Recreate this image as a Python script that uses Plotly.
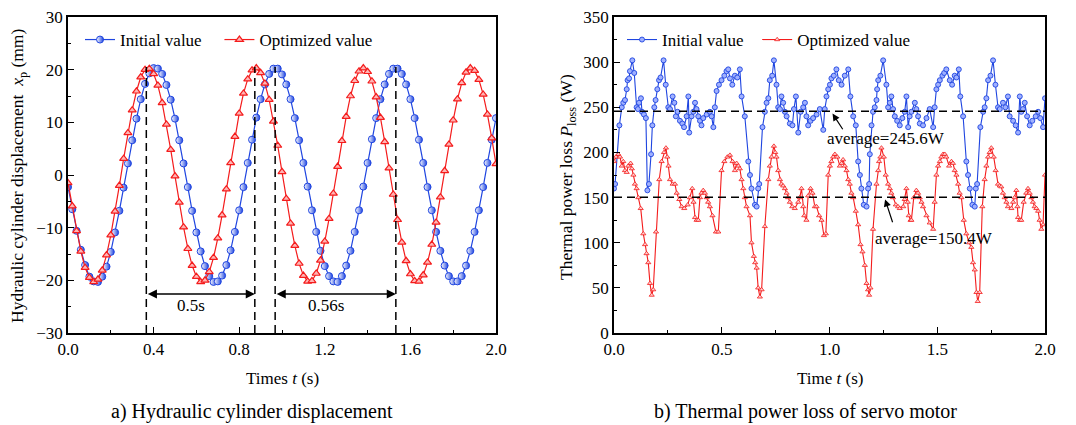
import plotly.graph_objects as go

# ---------------- data: a) hydraulic cylinder displacement ----------------
t_a = [round(i * 0.02, 2) for i in range(101)]
x_init = [-2.3, -6.5, -10.6, -14.2, -17.1, -19.3, -20.2, -20.3, -19.3, -17.4,
          -14.6, -10.9, -6.8, -2.4, 2.2, 6.6, 10.7, 14.4, 17.3, 19.3,
          20.3, 20.2, 19.2, 17.1, 14.3, 10.7, 6.6, 2.2,
          -2.3, -6.8, -10.9, -14.5, -17.3, -19.2, -20.3, -20.2, -19.1, -17.1,
          -14.3, -10.8, -6.7, -2.3, 2.3, 6.7, 10.9, 14.4, 17.2, 19.2,
          20.2, 20.2, 19.1, 17.2, 14.4, 10.8, 6.6, 2.3,
          -2.2, -6.7, -10.8, -14.4, -17.3, -19.2, -20.2, -20.3, -19.2, -17.2,
          -14.4, -10.8, -6.7, -2.2, 2.3, 6.8, 10.8, 14.4, 17.2, 19.2,
          20.2, 20.2, 19.2, 17.2, 14.4, 10.8, 6.7, 2.3,
          -2.3, -6.7, -10.8, -14.4, -17.2, -19.2, -20.2, -20.2, -19.2, -17.2,
          -14.4, -10.8, -6.7, -2.3, 2.3, 6.7, 10.8]
x_opt = [-1.5, -5.9, -10.6, -14.5, -17.6, -19.5, -20.3, -19.8, -18.1, -15.2,
         -11.4, -6.9, -2.0, 3.1, 8.0, 12.3, 15.9, 18.6, 20.0, 20.2,
         19.2, 17.0, 13.7, 9.6, 4.8, -0.2, -5.2, -9.9, -14.0, -17.2,
         -19.3, -20.3, -20.0, -18.4, -15.7, -12.0, -7.6, -2.7, 2.3, 7.3,
         11.7, 15.5, 18.2, 19.9, 20.3, 19.4, 17.4, 14.3, 10.2, 5.6,
         0.6, -4.5, -9.2, -13.4, -16.8, -19.1, -20.2, -20.1, -18.7, -16.2,
         -12.6, -8.3, -3.5, 1.6, 6.5, 11.1, 15.0, 17.9, 19.7, 20.3,
         19.6, 17.8, 14.8, 10.9, 6.3, 1.3, -3.7, -8.5, -12.8, -16.3,
         -18.8, -20.1, -20.2, -19.0, -16.6, -13.2, -9.0, -4.2, 0.8, 5.8,
         10.4, 14.4, 17.5, 19.5, 20.3, 19.8, 18.1, 15.3, 11.5, 7.0,
         2.1]
period_marks = [0.366, 0.873, 0.968, 1.532]
period_labels = ["0.5s", "0.56s"]

# ---------------- data: b) thermal power loss ----------------
t_init_b = [0.000, 0.005, 0.025, 0.036, 0.043, 0.051, 0.059, 0.063, 0.070, 0.074,
            0.085, 0.094, 0.105, 0.111, 0.116, 0.125, 0.130, 0.139, 0.148, 0.155,
            0.162, 0.172, 0.178, 0.187, 0.193, 0.201, 0.209, 0.216, 0.230, 0.240,
            0.252, 0.260, 0.272, 0.280, 0.287, 0.295, 0.306, 0.317, 0.325, 0.337,
            0.345, 0.349, 0.360, 0.368, 0.376, 0.383, 0.391, 0.399, 0.406, 0.414,
            0.430, 0.445, 0.453, 0.461, 0.468, 0.476, 0.487, 0.499, 0.512, 0.522,
            0.530, 0.538, 0.549, 0.561, 0.572, 0.584, 0.592, 0.607, 0.623, 0.631,
            0.638, 0.654, 0.662, 0.669, 0.674, 0.689, 0.700, 0.708, 0.716, 0.723,
            0.734, 0.742, 0.754, 0.762, 0.770, 0.777, 0.785, 0.793, 0.801, 0.816,
            0.828, 0.835, 0.844, 0.855, 0.866, 0.878, 0.886, 0.893, 0.901, 0.912,
            0.924, 0.940, 0.955, 0.971, 0.978, 0.986, 0.994, 1.002, 1.009, 1.020,
            1.032, 1.043, 1.056, 1.071, 1.087, 1.097, 1.110, 1.122, 1.133, 1.141,
            1.148, 1.159, 1.172, 1.179, 1.184, 1.187, 1.195, 1.202, 1.210, 1.218,
            1.221, 1.226, 1.236, 1.249, 1.264, 1.272, 1.280, 1.287, 1.295, 1.303,
            1.314, 1.326, 1.338, 1.349, 1.357, 1.365, 1.372, 1.380, 1.396, 1.403,
            1.411, 1.419, 1.434, 1.450, 1.465, 1.481, 1.488, 1.496, 1.504, 1.512,
            1.524, 1.532, 1.542, 1.558, 1.569, 1.581, 1.589, 1.600, 1.607, 1.620,
            1.635, 1.643, 1.651, 1.663, 1.674, 1.679, 1.685, 1.700, 1.713, 1.720,
            1.728, 1.736, 1.747, 1.759, 1.770, 1.782, 1.790, 1.805, 1.816, 1.828,
            1.836, 1.852, 1.864, 1.875, 1.883, 1.890, 1.898, 1.906, 1.917, 1.929,
            1.941, 1.957, 1.968, 1.978, 1.991, 2.000]
p_init_b = [160, 165, 230, 250, 255, 258, 270, 280, 282, 290,
            302, 288, 250, 248, 255, 260, 245, 242, 238, 158,
            165, 198, 230, 250, 258, 270, 280, 283, 302, 275,
            250, 248, 262, 255, 240, 245, 235, 232, 228, 240,
            262, 222, 240, 245, 255, 248, 240, 235, 230, 238,
            242, 245, 240, 228, 250, 268, 275, 280, 285, 290,
            292, 282, 275, 285, 283, 292, 262, 240, 190, 175,
            160, 142, 140, 160, 165, 228, 245, 255, 260, 280,
            285, 302, 275, 250, 248, 262, 255, 245, 240, 232,
            230, 248, 262, 222, 245, 250, 255, 240, 230, 235,
            238, 242, 248, 225, 248, 262, 270, 275, 282, 285,
            292, 280, 275, 285, 292, 262, 240, 230, 190, 175,
            160, 142, 140, 160, 165, 198, 230, 245, 250, 258,
            270, 280, 285, 302, 275, 250, 255, 262, 248, 240,
            235, 230, 238, 245, 262, 228, 240, 245, 255, 248,
            240, 232, 230, 238, 248, 228, 250, 270, 275, 280,
            285, 288, 292, 280, 275, 285, 283, 292, 262, 240,
            190, 175, 160, 142, 140, 160, 165, 228, 245, 250,
            260, 280, 285, 302, 275, 250, 248, 255, 250, 262,
            240, 235, 230, 222, 262, 245, 248, 255, 240, 230,
            235, 240, 245, 238, 228, 260]
t_opt_b = [0.000, 0.009, 0.020, 0.028, 0.036, 0.043, 0.051, 0.059, 0.066, 0.077,
           0.083, 0.090, 0.097, 0.105, 0.113, 0.124, 0.136, 0.144, 0.151, 0.159,
           0.167, 0.175, 0.182, 0.195, 0.210, 0.221, 0.232, 0.241, 0.247, 0.253,
           0.260, 0.272, 0.283, 0.291, 0.303, 0.314, 0.326, 0.342, 0.352, 0.363,
           0.369, 0.376, 0.383, 0.391, 0.399, 0.406, 0.414, 0.422, 0.430, 0.437,
           0.445, 0.457, 0.473, 0.484, 0.499, 0.512, 0.526, 0.538, 0.550, 0.561,
           0.569, 0.577, 0.584, 0.592, 0.600, 0.607, 0.615, 0.631, 0.638, 0.649,
           0.655, 0.662, 0.669, 0.677, 0.685, 0.700, 0.716, 0.723, 0.731, 0.742,
           0.748, 0.754, 0.762, 0.770, 0.777, 0.785, 0.793, 0.801, 0.808, 0.816,
           0.827, 0.839, 0.855, 0.862, 0.870, 0.878, 0.883, 0.893, 0.901, 0.912,
           0.921, 0.932, 0.940, 0.952, 0.963, 0.974, 0.983, 0.994, 1.002, 1.009,
           1.017, 1.025, 1.036, 1.048, 1.056, 1.063, 1.071, 1.079, 1.087, 1.094,
           1.102, 1.110, 1.122, 1.133, 1.144, 1.153, 1.164, 1.172, 1.179, 1.184,
           1.190, 1.202, 1.218, 1.226, 1.230, 1.236, 1.241, 1.252, 1.261, 1.272,
           1.280, 1.287, 1.295, 1.308, 1.318, 1.326, 1.342, 1.349, 1.357, 1.363,
           1.368, 1.376, 1.380, 1.391, 1.403, 1.411, 1.419, 1.427, 1.434, 1.450,
           1.465, 1.481, 1.488, 1.496, 1.504, 1.512, 1.519, 1.527, 1.535, 1.542,
           1.555, 1.566, 1.573, 1.581, 1.589, 1.597, 1.604, 1.612, 1.623, 1.635,
           1.648, 1.658, 1.666, 1.674, 1.682, 1.688, 1.697, 1.709, 1.720, 1.728,
           1.736, 1.743, 1.751, 1.762, 1.771, 1.782, 1.790, 1.797, 1.805, 1.813,
           1.821, 1.828, 1.844, 1.852, 1.859, 1.867, 1.872, 1.875, 1.883, 1.890,
           1.901, 1.913, 1.921, 1.929, 1.937, 1.944, 1.952, 1.960, 1.968, 1.975,
           1.983, 1.991, 2.000]
p_opt_b = [190, 195, 198, 195, 185, 190, 180, 178, 185, 188,
           182, 175, 165, 160, 150, 138, 110, 98, 88, 78,
           55, 42, 48, 112, 170, 190, 200, 205, 195, 185,
           170, 165, 165, 155, 148, 140, 138, 142, 150, 160,
           145, 128, 125, 125, 150, 155, 158, 155, 150, 145,
           140, 130, 112, 112, 180, 190, 195, 197, 190, 180,
           188, 185, 182, 170, 160, 150, 140, 130, 100, 85,
           78, 72, 50, 40, 48, 118, 170, 185, 195, 207,
           200, 195, 180, 170, 165, 163, 160, 155, 150, 145,
           140, 138, 145, 150, 160, 140, 130, 125, 152, 160,
           155, 140, 140, 130, 125, 108, 110, 175, 185, 190,
           195, 198, 195, 185, 188, 192, 185, 180, 170, 165,
           155, 150, 135, 120, 98, 90, 75, 55, 48, 42,
           50, 115, 165, 180, 190, 195, 205, 195, 175, 165,
           160, 155, 150, 142, 140, 138, 140, 148, 160, 145,
           130, 125, 125, 150, 158, 155, 150, 145, 140, 130,
           122, 115, 145, 175, 185, 190, 195, 198, 198, 195,
           185, 190, 188, 180, 175, 165, 155, 150, 125, 110,
           100, 95, 78, 70, 45, 35, 45, 140, 170, 185,
           195, 200, 205, 195, 180, 165, 163, 162, 155, 150,
           145, 140, 138, 145, 150, 158, 140, 128, 125, 125,
           145, 155, 160, 155, 150, 145, 140, 138, 135, 125,
           115, 120, 175]
avg_values = [245.6, 150.4]
avg_labels = ["average=245.6W", "average=150.4W"]
series_names = ["Initial value", "Optimized value"]

# ---------------- styling ----------------
BLUE = "#1f45e0"
RED = "#f41c1c"
FONT = "Liberation Serif"
FS = 17
W, H = 1076, 425
NB = "\u00a0"


def px(xp):
    return xp / W


def py(yp):
    return (H - yp) / H


fig = go.Figure()

# left subplot traces
fig.add_trace(go.Scatter(
    x=t_a, y=x_init, mode="lines+markers", name=series_names[0] + NB * 3,
    line=dict(color=BLUE, width=1.2),
    marker=dict(symbol="circle", size=7, color="white",
                gradient=dict(type="horizontal", color=BLUE),
                line=dict(color=BLUE, width=1)),
    xaxis="x", yaxis="y", legend="legend"))
fig.add_trace(go.Scatter(
    x=t_a, y=x_opt, mode="lines+markers", name=series_names[1],
    line=dict(color=RED, width=1.2),
    marker=dict(symbol="triangle-up", size=7, color="#ffb4b4",
                line=dict(color=RED, width=1.2)),
    xaxis="x", yaxis="y", legend="legend"))

# right subplot traces
fig.add_trace(go.Scatter(
    x=t_init_b, y=p_init_b, mode="lines+markers", name=series_names[0] + NB * 2,
    line=dict(color=BLUE, width=1.1),
    marker=dict(symbol="circle", size=5, color="#9fb0ff",
                line=dict(color=BLUE, width=0.9)),
    xaxis="x2", yaxis="y2", legend="legend2"))
fig.add_trace(go.Scatter(
    x=t_opt_b, y=p_opt_b, mode="lines+markers", name=series_names[1],
    line=dict(color=RED, width=1.1),
    marker=dict(symbol="triangle-up", size=4.5, color="#ffd0d0",
                line=dict(color=RED, width=0.8)),
    xaxis="x2", yaxis="y2", legend="legend2"))

shapes = []
annotations = []
DASH = "8px,5px"

# period markers (left)
for xm in period_marks:
    shapes.append(dict(type="line", xref="x", yref="y", x0=xm, x1=xm, y0=-30, y1=20.5,
                       line=dict(color="black", width=1.5, dash=DASH)))
for (a, b), lab in zip([(period_marks[0], period_marks[1]), (period_marks[2], period_marks[3])],
                       period_labels):
    annotations.append(dict(xref="x", yref="y", x=b, y=-22.6, ax=a, ay=-22.6,
                            axref="x", ayref="y", text="", showarrow=True,
                            arrowhead=2, arrowside="end+start", arrowsize=1.3,
                            arrowwidth=1.4, arrowcolor="black"))
    annotations.append(dict(xref="x", yref="y", x=(a + b) / 2 - 0.045, y=-24.7, text=lab,
                            showarrow=False, xanchor="center",
                            font=dict(family=FONT, size=FS, color="black")))

# averages (right)
for v in avg_values:
    shapes.append(dict(type="line", xref="x2", yref="y2", x0=0, x1=2, y0=v, y1=v,
                       line=dict(color="black", width=1.6, dash=DASH)))
annotations.append(dict(xref="x2", yref="y2", x=1.014, y=243, ax=1.066, ay=224,
                        axref="x2", ayref="y2", text="", showarrow=True, arrowhead=2,
                        arrowsize=1.2, arrowwidth=1.2, arrowcolor="black"))
annotations.append(dict(xref="x2", yref="y2", x=1.261, y=215, text=avg_labels[0],
                        showarrow=False, xanchor="center",
                        font=dict(family=FONT, size=FS, color="black")))
annotations.append(dict(xref="x2", yref="y2", x=1.258, y=148, ax=1.295, ay=121,
                        axref="x2", ayref="y2", text="", showarrow=True, arrowhead=2,
                        arrowsize=1.2, arrowwidth=1.2, arrowcolor="black"))
annotations.append(dict(xref="x2", yref="y2", x=1.484, y=105, text=avg_labels[1],
                        showarrow=False, xanchor="center",
                        font=dict(family=FONT, size=FS, color="black")))

# axis titles
tfont = dict(family=FONT, size=FS, color="black")
annotations.append(dict(xref="paper", yref="paper", x=px(282), y=py(378), xanchor="center",
                        yanchor="middle", showarrow=False, text="Times <i>t</i> (s)", font=tfont))
annotations.append(dict(xref="paper", yref="paper", x=px(830), y=py(378), xanchor="center",
                        yanchor="middle", showarrow=False, text="Time <i>t</i> (s)", font=tfont))
annotations.append(dict(xref="paper", yref="paper", x=px(19), y=py(176), xanchor="center",
                        yanchor="middle", showarrow=False, textangle=-90,
                        font=dict(family=FONT, size=17.5, color="black"),
                        text="Hydraulic cylinder displacement  <i>x</i><sub>p</sub> (mm)"))
annotations.append(dict(xref="paper", yref="paper", x=px(567), y=py(177), xanchor="center",
                        yanchor="middle", showarrow=False, textangle=-90,
                        font=dict(family=FONT, size=17.5, color="black"),
                        text="Thermal power loss <i>P</i><sub>loss</sub> (W)"))

# captions
annotations.append(dict(xref="paper", yref="paper", x=px(252), y=py(411), xanchor="center",
                        yanchor="middle", text="a) Hydraulic cylinder displacement",
                        showarrow=False, font=dict(family=FONT, size=20, color="black")))
annotations.append(dict(xref="paper", yref="paper", x=px(805), y=py(411), xanchor="center",
                        yanchor="middle", text="b) Thermal power loss of servo motor",
                        showarrow=False, font=dict(family=FONT, size=20, color="black")))

ydom = [py(333), py(17)]
axis_common = dict(showline=True, linecolor="black", linewidth=1.6, mirror=True,
                   ticks="inside", ticklen=6, tickwidth=1.3, tickcolor="black",
                   showgrid=False, zeroline=False, automargin=False,
                   tickfont=dict(family=FONT, size=FS, color="black"))


def leg(xp):
    return dict(orientation="h", x=px(xp), y=py(40), xanchor="left", yanchor="middle",
                bgcolor="rgba(0,0,0,0)", borderwidth=0, tracegroupgap=0,
                font=dict(family=FONT, size=FS, color="black"))


fig.update_layout(
    width=W, height=H,
    margin=dict(l=0, r=0, t=0, b=0, autoexpand=False),
    paper_bgcolor="white", plot_bgcolor="white",
    font=dict(family=FONT, size=FS, color="black"),
    xaxis=dict(domain=[px(68), px(496)], range=[0, 2.0], dtick=0.4, tick0=0,
               tickformat=".1f", anchor="y",
               minor=dict(ticks="inside", ticklen=3.5, dtick=0.2, tickcolor="black", tickwidth=1.2),
               **axis_common),
    yaxis=dict(domain=ydom, range=[-30, 30], dtick=10, anchor="x",
               minor=dict(ticks="inside", ticklen=3.5, dtick=5, tickcolor="black", tickwidth=1.2),
               **axis_common),
    xaxis2=dict(domain=[px(614), px(1045)], range=[0, 2.0], dtick=0.5, tick0=0,
                tickformat=".1f", anchor="y2",
                minor=dict(ticks="inside", ticklen=3.5, dtick=0.25, tickcolor="black", tickwidth=1.2),
                **axis_common),
    yaxis2=dict(domain=ydom, range=[0, 350], dtick=50, anchor="x2",
                minor=dict(ticks="inside", ticklen=3.5, dtick=25, tickcolor="black", tickwidth=1.2),
                **axis_common),
    legend=leg(80), legend2=leg(622),
    shapes=shapes, annotations=annotations,
)

fig.write_html("out.html", config={"displayModeBar": False},
               post_script="document.body.style.margin='0';document.body.style.overflow='hidden';")
